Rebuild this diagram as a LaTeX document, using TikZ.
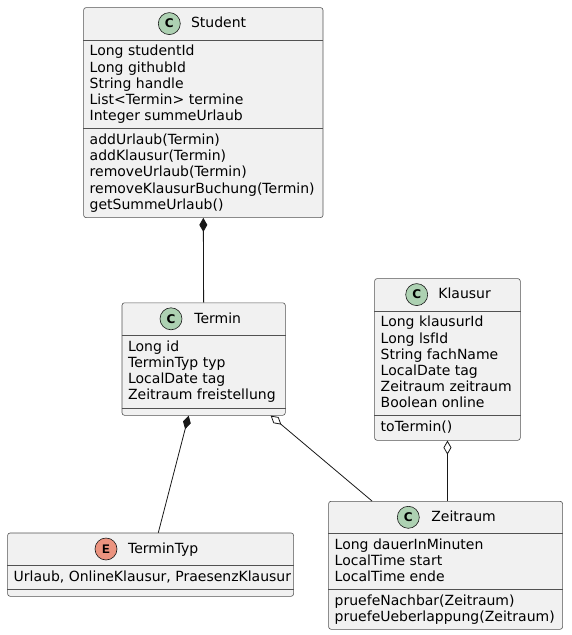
\documentclass[tikz,border=0pt]{standalone}
\usepackage{fontspec}
\setmainfont{DejaVu Sans}
\newfontfamily\letterfont{Liberation Mono}
\usetikzlibrary{arrows.meta}
\definecolor{boxfill}{HTML}{F1F1F1}
\definecolor{boxline}{HTML}{181818}
\definecolor{classgreen}{HTML}{ADD1B2}
\definecolor{enumred}{HTML}{EB937F}

\begin{document}
\begin{tikzpicture}[x=1pt, y=-1pt, boxline, line width=0.8pt,
	classbox/.style={draw=boxline!75, line width=0.6pt, fill=boxfill, rounded corners=2.5pt, anchor=north west, inner sep=0pt},
	sepline/.style={draw=boxline!75, line width=0.6pt},
	badge/.style={circle, draw=boxline, line width=0.6pt, fill=classgreen, minimum size=22pt, inner sep=0pt, text=black, font=\fontsize{12}{12}\selectfont\bfseries},
	entry/.style={anchor=base west, inner sep=0pt, text=black, font=\fontsize{14}{16}\selectfont},
	comp/.style={{Diamond[length=14pt,width=8pt]}-},
	aggr/.style={{Diamond[fill=white,length=14pt,width=8pt]}-}]

	\useasboundingbox (0,0) rectangle (571,635);

	% Student
	\node[classbox, minimum width=239.4pt, minimum height=210pt] (student) at (83.3,7.3) {};
	\draw[sepline] (student.west |- 0,39.8) -- (student.east |- 0,39.8);
	\draw[sepline] (student.west |- 0,128) -- (student.east |- 0,128);
	\node[badge] (student-c) at (169.3,23.6) {C};
	\node[entry] (student-t) at (190.7,27.8) {Student};
	\foreach \t [count=\i from 0] in {Long studentId, Long githubId, String handle, List<Termin> termine, Integer summeUrlaub}
		\node[entry] (student-a\i) at (89.3,55.8+16.2*\i) {\t};
	\foreach \t [count=\i from 0] in {addUrlaub(Termin), addKlausur(Termin), removeUrlaub(Termin), removeKlausurBuchung(Termin), getSummeUrlaub()}
		\node[entry] (student-m\i) at (89.3,144.5+16.2*\i) {\t};

	% Termin
	\node[classbox, minimum width=163.3pt, minimum height=112.5pt] (termin) at (121.7,302.5) {};
	\draw[sepline] (termin.west |- 0,335) -- (termin.east |- 0,335);
	\draw[sepline] (termin.west |- 0,408) -- (termin.east |- 0,408);
	\node[badge] (termin-c) at (171,318.8) {C};
	\node[entry] (termin-t) at (194,323) {Termin};
	\foreach \t [count=\i from 0] in {Long id, TerminTyp typ, LocalDate tag, Zeitraum freistellung}
		\node[entry] (termin-a\i) at (127.7,351+16.2*\i) {\t};

	% Klausur
	\node[classbox, minimum width=145.7pt, minimum height=161.7pt] (klausur) at (374.3,278.3) {};
	\draw[sepline] (klausur.west |- 0,310.8) -- (klausur.east |- 0,310.8);
	\draw[sepline] (klausur.west |- 0,415) -- (klausur.east |- 0,415);
	\node[badge] (klausur-c) at (416.7,294.6) {C};
	\node[entry] (klausur-t) at (438,298.8) {Klausur};
	\foreach \t [count=\i from 0] in {Long klausurId, Long lsfId, String fachName, LocalDate tag, Zeitraum zeitraum, Boolean online}
		\node[entry] (klausur-a\i) at (380.3,326.8+16.2*\i) {\t};
	\node[entry] (klausur-m0) at (380.3,431.5) {toTermin()};

	% TerminTyp
	\node[classbox, minimum width=286pt, minimum height=63.3pt] (termintyp) at (7.3,532.7) {};
	\draw[sepline] (termintyp.west |- 0,565.2) -- (termintyp.east |- 0,565.2);
	\draw[sepline] (termintyp.west |- 0,589) -- (termintyp.east |- 0,589);
	\node[badge, fill=enumred, font=\fontsize{13}{13}\selectfont\letterfont\bfseries] (termintyp-c) at (106,549) {E};
	\node[entry] (termintyp-t) at (127.7,553.2) {TerminTyp};
	\node[entry] (termintyp-a0) at (13.3,581.2) {Urlaub, OnlineKlausur, PraesenzKlausur};

	% Zeitraum
	\node[classbox, minimum width=234pt, minimum height=128pt] (zeitraum) at (328.3,501) {};
	\draw[sepline] (zeitraum.west |- 0,533.5) -- (zeitraum.east |- 0,533.5);
	\draw[sepline] (zeitraum.west |- 0,589) -- (zeitraum.east |- 0,589);
	\node[badge] (zeitraum-c) at (408.3,517.3) {C};
	\node[entry] (zeitraum-t) at (431,521.5) {Zeitraum};
	\foreach \t [count=\i from 0] in {Long dauerInMinuten, LocalTime start, LocalTime ende}
		\node[entry] (zeitraum-a\i) at (334.3,549.5+16.2*\i) {\t};
	\foreach \t [count=\i from 0] in {pruefeNachbar(Zeitraum), pruefeUeberlappung(Zeitraum)}
		\node[entry] (zeitraum-m\i) at (334.3,605.5+16.2*\i) {\t};

	% connectors
	\draw[comp] (student.south) -- (termin.north);
	\draw[comp] ([xshift=-15pt]termin.south) -- ([xshift=7.7pt]termintyp.north);
	\draw[aggr] ([xshift=67pt]termin.south) -- ([xshift=-73.6pt]zeitraum.north);
	\draw[aggr] (klausur.south) -- (klausur.south |- zeitraum.north);

\end{tikzpicture}
\end{document}
